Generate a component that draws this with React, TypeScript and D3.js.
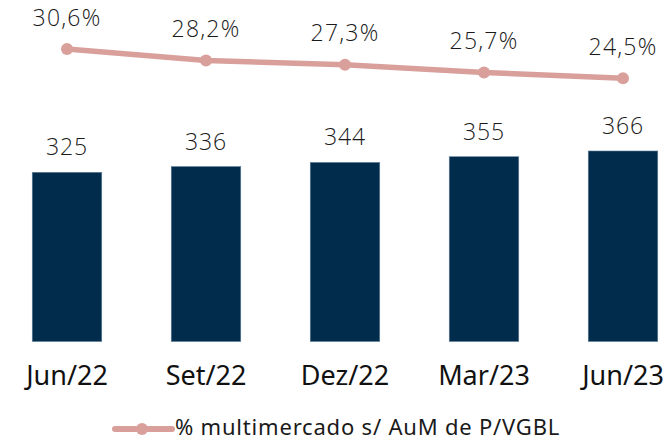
import React from "react";
import * as d3 from "d3";

const categories = ["Jun/22", "Set/22", "Dez/22", "Mar/23", "Jun/23"];
const aumValues = [325, 336, 344, 355, 366];
const pctValues = [30.6, 28.2, 27.3, 25.7, 24.5];
const pctLabels = ["30,6%", "28,2%", "27,3%", "25,7%", "24,5%"];
const legendLabel = "% multimercado s/ AuM de P/VGBL";

const W = 669;
const H = 442;
const BAR = "#012c4b";
const LINE = "#d9a09b";

export default function App() {
  const x = d3.scaleBand<string>().domain(categories).range([32.25, 657.75]).paddingInner(0.5).paddingOuter(0);
  const yBar = d3.scaleLinear().domain([0, 400]).range([341.5, 133.3]);
  const yLine = d3.scaleLinear().domain([0, 40]).range([195.9, 3.9]);
  const cx = (c: string) => (x(c) as number) + x.bandwidth() / 2;
  const pts = categories.map((c, i) => [cx(c), yLine(pctValues[i])] as [number, number]);
  const line = d3.line()(pts) as string;

  return (
    <svg width={W} height={H} style={{ position: "absolute", left: 0, top: 0, background: "#fff" }}>
      {categories.map((c, i) => (
        <g key={c}>
          <rect
            x={x(c)}
            y={yBar(aumValues[i])}
            width={x.bandwidth()}
            height={yBar(0) - yBar(aumValues[i])}
            fill={BAR}
            stroke="#5f7d97"
            strokeWidth={0.6}
          />
          <text
            x={cx(c)}
            y={yBar(aumValues[i]) - 17}
            textAnchor="middle"
            fontFamily="'Open Sans', sans-serif"
            fontWeight={300}
            fontSize={23}
            letterSpacing={0.8}
            fill="#1a1a1a"
          >
            {aumValues[i]}
          </text>
          <text
            x={cx(c)}
            y={384.5}
            textAnchor="middle"
            fontFamily="'Noto Sans', sans-serif"
            fontSize={27}
            fill="#111"
          >
            {c}
          </text>
        </g>
      ))}
      <path d={line} fill="none" stroke={LINE} strokeWidth={5.5} strokeLinejoin="round" />
      {pts.map((p, i) => (
        <g key={i}>
          <circle cx={p[0]} cy={p[1]} r={6} fill={LINE} />
          <text
            x={p[0]}
            y={p[1] - 23.5}
            textAnchor="middle"
            fontFamily="'Open Sans', sans-serif"
            fontWeight={300}
            fontSize={23}
            letterSpacing={1.2}
            fill="#1a1a1a"
          >
            {pctLabels[i]}
          </text>
        </g>
      ))}
      <line x1={115} x2={172} y1={429} y2={429} stroke={LINE} strokeWidth={6} strokeLinecap="round" />
      <circle cx={142} cy={429} r={6} fill={LINE} />
      <text x={175} y={435} fontFamily="'Noto Sans', sans-serif" fontSize={22} letterSpacing={0.8} fill="#1a1a1a">
        {legendLabel}
      </text>
    </svg>
  );
}
